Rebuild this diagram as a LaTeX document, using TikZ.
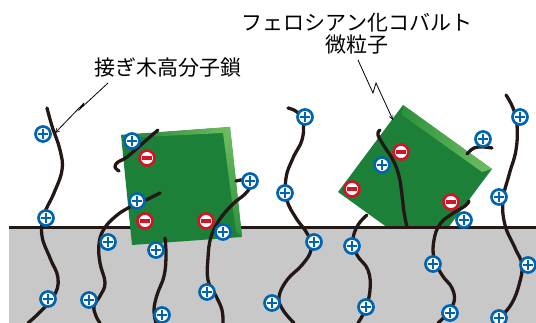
\documentclass[tikz,border=0pt]{standalone}
\usepackage{fontspec}
\usetikzlibrary{arrows.meta,positioning,calc}
\newfontfamily\jpfont{Noto Sans CJK JP}
\definecolor{ChainBlack}{RGB}{35,24,21}
\definecolor{IonBlue}{RGB}{0,100,176}
\definecolor{IonRed}{RGB}{210,20,36}
\definecolor{CubeGreen}{RGB}{28,128,56}
\definecolor{BevelLight}{RGB}{112,190,96}
\definecolor{BevelDark}{RGB}{44,146,60}
\definecolor{SubstrateGray}{RGB}{200,200,200}
\tikzset{
  chainline/.style={draw=ChainBlack,line width=3.3pt,line cap=round,line join=round},
  cation/.style={circle,draw=IonBlue,fill=white,line width=2.7pt,
    minimum size=15pt,inner sep=0pt,
    path picture={\draw[IonBlue,line width=2.6pt]
      ([xshift=-5pt]path picture bounding box.center) --
      ([xshift=5pt]path picture bounding box.center)
      ([yshift=-5pt]path picture bounding box.center) --
      ([yshift=5pt]path picture bounding box.center);}},
  anion/.style={circle,draw=IonRed,fill=white,line width=2.7pt,
    minimum size=15pt,inner sep=0pt,
    path picture={\fill[IonRed]
      ([shift={(-5pt,-2pt)}]path picture bounding box.center) rectangle
      ([shift={(5pt,2pt)}]path picture bounding box.center);}},
  leader/.style={draw=black,line width=0.8pt,
    -{Straight Barb[length=4pt,width=4pt,line width=0.6pt]}},
  labeltext/.style={font=\jpfont\fontsize{21pt}{22pt}\selectfont,
    inner sep=0pt,align=center,text=black}
}
\begin{document}
\begin{tikzpicture}[x=1pt,y=-1pt]
\useasboundingbox (0,0) rectangle (536,323);

% tilted particle, partly sunk below the surface
\fill[CubeGreen] (403,105) -- (492,169) -- (427,256) -- (338,192) -- cycle;
\shade[left color=BevelDark,right color=BevelLight]
  (403,105) -- (492,169) -- (482,172) -- (402,115) -- cycle;

% substrate
\fill[SubstrateGray] (9,227) rectangle (536,323);
\draw[ChainBlack,line width=2.5pt] (9,227.5) -- (536,227.5);

% upright particle
\fill[CubeGreen] (121,135) -- (230,127) -- (242,237) -- (132,245) -- cycle;
\shade[top color=BevelLight,bottom color=BevelDark]
  (230,127) -- (242,237) -- (236,232) -- (223,133) -- cycle;
\shade[left color=CubeGreen,right color=BevelLight]
  (121,135) -- (230,127) -- (223,133) -- (123,138) -- cycle;

% grafted chains
\draw[chainline] plot[smooth,tension=0.7] coordinates {(47,108) (52,126) (60,150) (62,170)
  (54,193) (44,215) (42,236) (50,258) (58,278) (54,296) (40,312) (28,323)};
\draw[chainline] plot[smooth,tension=0.7] coordinates {(160,193) (146,200) (130,207)
  (116,216) (104,229) (99,244) (100,263) (105,283) (100,296) (94,306) (96,316) (100,323)};
\draw[chainline] plot[smooth,tension=0.7] coordinates {(158,130) (143,143) (127,157)
  (118,162) (115,167) (119,171)};
\draw[chainline] plot[smooth,tension=0.7] coordinates {(236,181) (246,180) (250,186)
  (245,194) (233,204) (220,219) (211,237) (208,258) (208,280) (216,296) (222,310) (223,323)};
\draw[chainline] plot[smooth,tension=0.7] coordinates {(165,238) (166,256) (164,276)
  (157,295) (154,310) (156,323)};
\draw[chainline] plot[smooth,tension=0.7] coordinates {(288,108) (297,112) (303,122)
  (302,140) (293,158) (286,178) (287,200) (296,218) (308,235) (311,250) (302,265)
  (287,280) (279,297) (283,310) (294,323)};
\draw[chainline] plot[smooth,tension=0.7] coordinates {(367,215) (358,225) (353,240)
  (357,255) (368,270) (370,290) (365,310) (358,323)};
\draw[chainline] plot[smooth,tension=0.7] coordinates {(380,130) (378,135) (384,146)
  (393,160) (399,176) (402,195) (404,212) (407,227)};
\draw[chainline] plot[smooth,tension=0.7] coordinates {(469,201) (465,206) (452,214)
  (440,224) (434,240) (434,258) (442,275) (452,288) (454,302) (446,315) (438,323)};
\draw[chainline] plot[smooth,tension=0.7] coordinates {(467,154) (474,148) (483,147) (492,148)};
\draw[chainline] plot[smooth,tension=0.7] coordinates {(506,95) (513,108) (517,125)
  (516,150) (509,175) (503,200) (505,225) (515,248) (522,265) (519,285) (512,303)
  (502,316) (497,323)};

% charges
\foreach \n/\x/\y in {1/43/134,2/46/218,3/48/299,4/132/141,5/137/201,6/108/242,
  7/89/300,8/156/250,9/162/315,10/250/181,11/223/232,12/207/292,13/305/117,
  14/285/193,15/314/242,16/272/303,17/382/165,18/352/246,19/366/307,20/464/220,
  21/433/264,22/450/313,23/483/139,24/520/117,25/499/197,26/528/265,27/499/318}
  \node[cation] (p\n) at (\x,\y) {};
\foreach \n/\x/\y in {1/147/158,2/145/221,3/206/221,4/401/152,5/352/189,6/451/202}
  \node[anion] (m\n) at (\x,\y) {};

% labels
\node[labeltext] (graft) at (168,68) {接ぎ木高分子鎖};
\node[labeltext] (particle) at (357,34) {フェロシアン化コバルト\\微粒子};

\coordinate (graftfrom) at (108,83);
\coordinate (graftto) at (55,133);
\coordinate (particlefrom) at (358,60);
\coordinate (particleto) at (393,120);
\draw[leader] (graftfrom) -- (80,109) -- (84,103) -- (graftto);
\draw[leader] (particlefrom) -- (373,93) -- (376,83) -- (particleto);
\end{tikzpicture}
\end{document}
